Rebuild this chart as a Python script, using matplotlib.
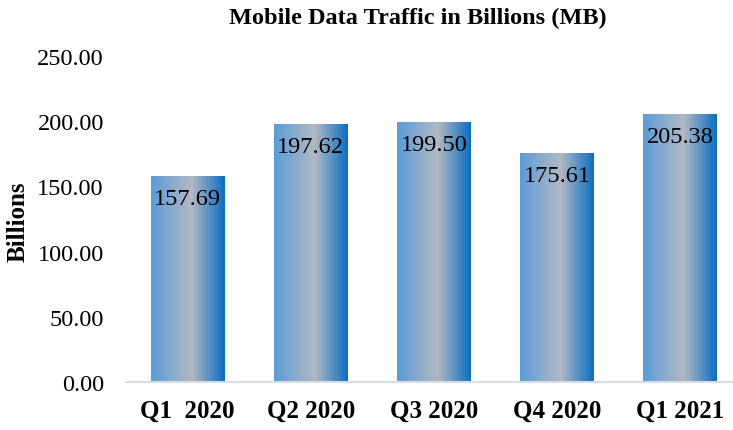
import numpy as np
import matplotlib
matplotlib.use("Agg")
import matplotlib.pyplot as plt
from matplotlib.colors import LinearSegmentedColormap

# data
quarters = ["Q1  2020", "Q2 2020", "Q3 2020", "Q4 2020", "Q1 2021"]
traffic = [157.69, 197.62, 199.50, 175.61, 205.38]
yticks = [0, 50, 100, 150, 200, 250]

plt.rcParams['font.family'] = ['Liberation Serif', 'DejaVu Serif']

fig = plt.figure(figsize=(7.33, 4.31), dpi=100)
# axes runs a little past the right edge, like the original
ax = fig.add_axes([126/733, (431-383)/431, 616/733, (383-57)/431])

grad = LinearSegmentedColormap.from_list(
    "bar", [(0.0, "#5b9cd8"), (0.55, "#b3b8c3"), (1.0, "#0a6ec4")])
g = np.linspace(0, 1, 256).reshape(1, -1)

x = np.arange(len(quarters))
bars = ax.bar(x, traffic, width=0.6, color="none", edgecolor="none")
for b, v in zip(bars, traffic):
    x0, w, h = b.get_x(), b.get_width(), b.get_height()
    im = ax.imshow(g, cmap=grad, extent=[x0, x0 + w, 0, h],
                   aspect="auto", zorder=2)
    im.set_clip_path(b)
    ax.annotate(f"{v:.2f}", (x0 + w/2, h), xytext=(0, -16),
                textcoords="offset points", ha="center", va="center",
                fontsize=17.5, zorder=3)

ax.set_xlim(-0.5, len(quarters) - 0.5)
ax.set_ylim(0, 250)
ax.set_yticks(yticks)
ax.set_yticklabels([f"{t:.2f}" for t in yticks], fontsize=17.5)
ax.set_xticks(x)
ax.set_xticklabels(quarters, fontsize=18, fontweight="bold")
ax.tick_params(length=0)
ax.tick_params(axis="x", pad=12)
ax.tick_params(axis="y", pad=16)
for s in ["top", "right", "left"]:
    ax.spines[s].set_visible(False)
ax.spines["bottom"].set_color("#d9dde3")
ax.spines["bottom"].set_linewidth(1.5)

fig.text(18/733, 1 - 222/431, "Billions", rotation=90, ha="center",
         va="center", fontsize=18, fontweight="bold")
fig.text(418/733, 1 - 18/431, "Mobile Data Traffic in Billions (MB)",
         ha="center", va="center", fontsize=17.5, fontweight="bold")

fig.savefig("out.png", dpi=100)
